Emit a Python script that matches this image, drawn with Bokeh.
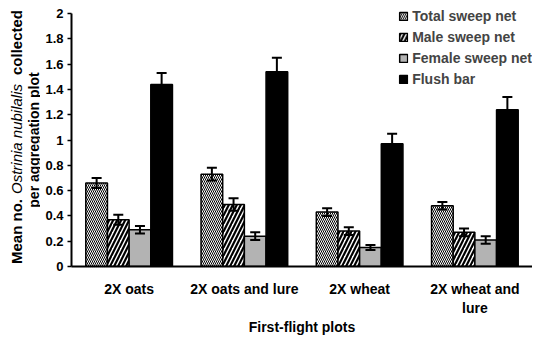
import math
from bokeh.plotting import figure
from bokeh.layouts import row
from bokeh.models import (ColumnDataSource, Range1d, FixedTicker, Whisker, TeeHead, Legend)
from bokeh.core.properties import value
from bokeh.embed import file_html
from bokeh.resources import INLINE

# ---- data ----
categories = ["2X oats", "2X oats and lure", "2X wheat", "2X wheat and lure"]
category_labels = ["2X oats", "2X oats and lure", "2X wheat", "2X wheat and\nlure"]
series_names = ["Total sweep net", "Male sweep net", "Female sweep net", "Flush bar"]
total_sweep = [0.66, 0.73, 0.43, 0.48]
total_err = [0.04, 0.05, 0.03, 0.03]
male_sweep = [0.37, 0.49, 0.28, 0.27]
male_err = [0.04, 0.05, 0.03, 0.03]
female_sweep = [0.29, 0.24, 0.15, 0.21]
female_err = [0.03, 0.03, 0.02, 0.03]
flush_bar = [1.44, 1.54, 0.97, 1.24]
flush_err = [0.09, 0.11, 0.08, 0.10]
y_ticks = [0, 0.2, 0.4, 0.6, 0.8, 1, 1.2, 1.4, 1.6, 1.8, 2]
y_tick_labels = ["0", "0.2", "0.4", "0.6", "0.8", "1", "1.2", "1.4", "1.6", "1.8", "2"]
y_title_parts = ["Mean no.", "Ostrinia nubilalis", "collected"]
y_title_line2 = "per aggregation plot"

FONT = "Liberation Sans"
H = 337
LW = 40            # width of the strip holding the y-axis title
W = 532 - LW       # main figure width

# ---------------- main chart ----------------
p = figure(width=W, height=H, output_backend="svg", toolbar_location=None,
           x_range=Range1d(0, len(categories)), y_range=Range1d(0, 2.04),
           min_border_left=31, min_border_right=0, min_border_top=8, min_border_bottom=69)
p.outline_line_color = None
p.xgrid.grid_line_color = None
p.ygrid.grid_line_color = None
p.background_fill_color = "white"
p.border_fill_color = "white"

centers = [i + 0.5 for i in range(len(categories))]

series = [
    (total_sweep, total_err, dict(fill_color="white", hatch_pattern="left_diagonal_line",
                                  hatch_scale=4, hatch_weight=1.0, hatch_color="black")),
    (male_sweep, male_err, dict(fill_color="white", hatch_pattern="right_diagonal_line",
                                hatch_scale=8, hatch_weight=2.2, hatch_color="black")),
    (female_sweep, female_err, dict(fill_color="#b3b3b3")),
    (flush_bar, flush_err, dict(fill_color="black")),
]
bw = 0.188
offsets = [-1.5 * bw, -0.5 * bw, 0.5 * bw, 1.5 * bw]

legend_items = []
whiskers = []
for (vals, errs, style), name, off in zip(series, series_names, offsets):
    src = ColumnDataSource(dict(x=[c + off for c in centers], val=vals,
                                lower=[v - e for v, e in zip(vals, errs)],
                                upper=[v + e for v, e in zip(vals, errs)]))
    r = p.vbar(x="x", top="val", width=bw, source=src,
               line_color="black", line_width=1.5, **style)
    legend_items.append((name, [r]))
    whiskers.append(Whisker(base="x", upper="upper", lower="lower", source=src,
                            line_color="black", line_width=2, level="annotation",
                            upper_head=TeeHead(size=10, line_width=2, line_color="black"),
                            lower_head=TeeHead(size=10, line_width=2, line_color="black")))
for w in whiskers:
    p.add_layout(w)

legend = Legend(items=legend_items, location="top_right", margin=0, padding=0,
                border_line_color=None, background_fill_alpha=0,
                glyph_width=10, glyph_height=10, label_height=16, spacing=5,
                label_standoff=4, label_text_font=FONT, label_text_font_style="bold",
                label_text_font_size="14px")
p.add_layout(legend)

# y axis
ya = p.yaxis[0]
ya.ticker = FixedTicker(ticks=y_ticks)
ya.major_label_overrides = {t: l for t, l in zip(y_ticks, y_tick_labels)}
ya.bounds = (0, 2)
ya.axis_line_width = 2
ya.axis_line_color = "black"
ya.major_tick_in = 0
ya.major_tick_out = 4
ya.major_tick_line_width = 1.5
ya.minor_tick_line_color = None
ya.major_label_standoff = 4
ya.major_label_text_font = FONT
ya.major_label_text_font_style = "bold"
ya.major_label_text_font_size = "13px"
ya.major_label_text_color = "black"

# x axis
xa = p.xaxis[0]
xa.ticker = FixedTicker(ticks=centers)
xa.major_label_overrides = {c: l for c, l in zip(centers, category_labels)}
xa.axis_line_width = 2
xa.axis_line_color = "black"
xa.major_tick_line_color = None
xa.major_tick_out = 0
xa.major_tick_in = 0
xa.minor_tick_line_color = None
xa.major_label_standoff = 14
xa.major_label_text_font = FONT
xa.major_label_text_font_style = "bold"
xa.major_label_text_font_size = "14px"
xa.major_label_text_color = "black"
xa.axis_label = "First-flight plots"
xa.axis_label_standoff = 0
xa.axis_label_text_font = FONT
xa.axis_label_text_font_style = "bold"
xa.axis_label_text_font_size = "14px"
xa.axis_label_text_color = "black"

# ---------------- y-axis title strip (mixed italic text) ----------------
# shares the chart's y scale, so the title sits beside the value axis
t = figure(width=LW, height=H, output_backend="svg", toolbar_location=None,
           x_range=Range1d(0, LW), y_range=p.y_range,
           min_border_left=0, min_border_right=0, min_border_top=8, min_border_bottom=69,
           x_axis_type=None, y_axis_type=None)
t.outline_line_color = None
t.xgrid.grid_line_color = None
t.ygrid.grid_line_color = None
t.border_fill_color = "white"
t.background_fill_color = "white"

common = dict(angle=math.pi / 2, text_baseline="middle", text_font=value(FONT),
              text_color="black", text_font_size="15px")
t.text(x=[16], y=[0.02], text=[y_title_parts[0]], text_align="left",
       text_font_style="bold", **common)
t.text(x=[16], y=[0.573], text=[y_title_parts[1]], text_align="left",
       text_font_style="italic", **common)
t.text(x=[16], y=[1.514], text=[y_title_parts[2]], text_align="left",
       text_font_style="bold", **common)
t.text(x=[33], y=[1.0], text=[y_title_line2], text_align="center",
       text_font_style="bold", angle=math.pi / 2, text_baseline="middle",
       text_font=value(FONT), text_color="black", text_font_size="14px")

layout = row(t, p, spacing=0)
open("out.html", "w").write(file_html(layout, INLINE))
